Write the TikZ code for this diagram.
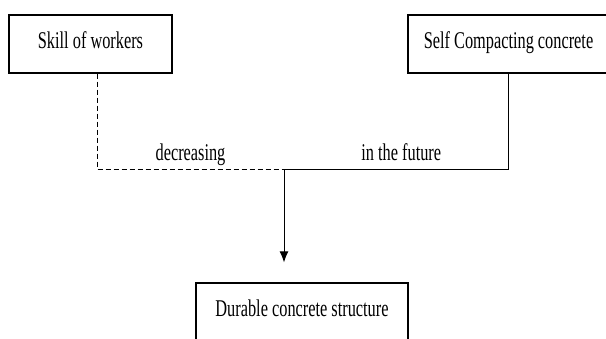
\documentclass[tikz,border=0pt]{standalone}
\usepackage{fontspec}
\setmainfont{Liberation Serif}[FakeStretch=0.68]
\usepackage{tikz}
\usetikzlibrary{arrows.meta}

\tikzset{
    factor/.style={draw, line width=1.2pt, minimum height=58pt, text height=17pt, text depth=9pt, inner sep=0pt, font=\fontsize{24}{24}\selectfont},
    lbl/.style={anchor=base, yshift=9pt, font=\fontsize{24}{24}\selectfont}
}

\begin{document}
\begin{tikzpicture}[x=1pt,y=-1pt]
    \path[use as bounding box, clip] (0,0) rectangle (606,338);
    \node[factor, minimum width=163pt] (skill) at (90.5,44) {Skill of workers};
    \node[factor, minimum width=201pt] (scc) at (508.5,44) {Self Compacting concrete};
    \node[factor, minimum width=212pt] (durable) at (302,312) {Durable concrete structure};
    \coordinate (join) at (284,169);
    % \draw [->] (skill) -- (durable);
    \draw [dash pattern=on 5pt off 3pt, line width=1pt] ([xshift=6.5pt]skill.south) |- (join) node[lbl, pos=0.75] {decreasing};
    \draw [line width=1pt] (scc.south) |- (join) node[lbl, pos=0.75, xshift=5pt] {in the future};
    \draw [line width=1pt, -{Latex[length=11pt,width=9pt]}, shorten >=20pt] (join) -- (join |- durable.north);
\end{tikzpicture}
\end{document}
